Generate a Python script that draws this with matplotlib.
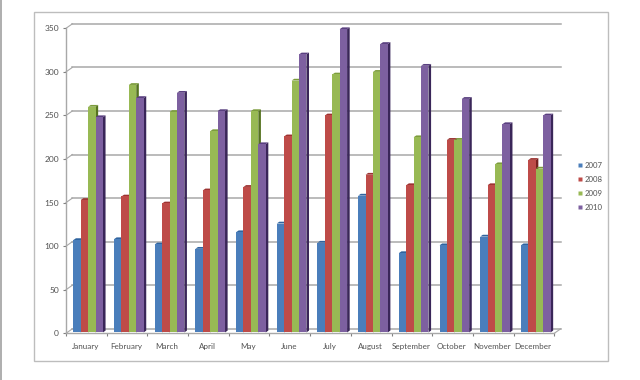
import matplotlib
matplotlib.use('Agg')
import matplotlib.pyplot as plt
from matplotlib.patches import Rectangle, Polygon
from matplotlib.lines import Line2D

plt.rcParams['font.family'] = ['Lato', 'DejaVu Sans']

# Values
months = ['January', 'February', 'March', 'April', 'May', 'June', 'July',
          'August', 'September', 'October', 'November', 'December']
y2007 = [107, 108, 102, 97, 116, 126, 104, 158, 92, 101, 111, 101]
y2008 = [153, 157, 149, 164, 168, 226, 250, 182, 170, 222, 170, 199]
y2009 = [260, 285, 254, 232, 255, 290, 297, 300, 225, 222, 194, 189]
y2010 = [248, 270, 276, 255, 217, 320, 349, 332, 307, 269, 240, 250]
years = ['2007', '2008', '2009', '2010']
series = [y2007, y2008, y2009, y2010]
y_ticks = [0, 50, 100, 150, 200, 250, 300, 350]

front_cols = ['#4a7ebb', '#be4b48', '#98b954', '#7d60a0']
side_cols = ['#234a78', '#76211f', '#55731f', '#3a2659']
cap_cols = ['#2f649f', '#9c3331', '#7c9c3c', '#5a4080']
grid_col = '#a8a8a8'
text_col = '#505050'

W, H = 640, 380
fig = plt.figure(figsize=(6.4, 3.8), dpi=100, facecolor='white')

# outer chart frame and the grey strip on the left edge of the page
fig.add_artist(Rectangle((34 / W, 1 - 361 / H), 574 / W, 349 / H, fill=False,
                         edgecolor='#bdbdbd', linewidth=1.0,
                         transform=fig.transFigure))
fig.add_artist(Rectangle((0, 0), 1.5 / W, 1, facecolor='#b0b0b0',
                         edgecolor='none', transform=fig.transFigure))

ax = fig.add_axes([66 / W, 1 - 333.3 / H, 488.3 / W, 305 / H])
ax.set_xlim(0, 12)
ax.set_ylim(0, 350)
ax.patch.set_alpha(0)

# fake 3D back wall, offset in data units
wall_dx = 6.4 * 12 / 488.3
wall_dy = 4.5 * 350 / 305
for t in y_ticks:
    ax.plot([wall_dx, 12 + wall_dx], [t + wall_dy, t + wall_dy], color=grid_col,
            lw=1.1, zorder=1, clip_on=False)
    ax.plot([0, wall_dx], [t, t + wall_dy], color=grid_col, lw=0.8, zorder=1,
            clip_on=False)
ax.plot([12, 12 + wall_dx], [0, wall_dy], color=grid_col, lw=0.8, zorder=1,
        clip_on=False)

# bars: side and cap first, the next bar in the group covers them
bar_w = 0.182
start = 0.18
side_x = 2.6 * 12 / 488.3
side_y = 1.8 * 350 / 305
z = 3
for m in range(len(months)):
    for k, vals in enumerate(series):
        x0 = m + start + k * bar_w
        x1 = x0 + bar_w
        v = vals[m]
        ax.add_patch(Polygon([(x1, 1), (x1 + side_x, 1 + side_y),
                              (x1 + side_x, v + side_y), (x1, v)],
                             facecolor=side_cols[k], edgecolor='none',
                             zorder=z, clip_on=False))
        ax.add_patch(Polygon([(x0, v), (x0 + side_x, v + side_y),
                              (x1 + side_x, v + side_y), (x1, v)],
                             facecolor=cap_cols[k], edgecolor='none',
                             zorder=z, clip_on=False))
        ax.bar(x0, v - 1, width=bar_w, bottom=1, align='edge',
               color=front_cols[k], linewidth=0, zorder=z + 1)
        z += 2

for s in ['top', 'right']:
    ax.spines[s].set_visible(False)
for s in ['left', 'bottom']:
    ax.spines[s].set_color(grid_col)
    ax.spines[s].set_linewidth(1.0)
    ax.spines[s].set_zorder(2)

ax.set_yticks(y_ticks)
ax.set_xticks(range(13))
ax.set_xticklabels([])
ax.set_xticks([i + 0.48 for i in range(12)], minor=True)
ax.set_xticklabels(months, minor=True)
ax.tick_params(axis='x', which='major', length=2.2, width=0.8, color='#808080')
ax.tick_params(axis='x', which='minor', length=0, pad=7, labelsize=5.8,
               labelcolor=text_col)
ax.tick_params(axis='y', length=2.2, width=0.8, color='#808080', pad=2.8,
               labelsize=6.0, labelcolor=text_col)

handles = [Line2D([], [], linestyle='none', marker='s', markersize=3.2,
                  markerfacecolor=c, markeredgecolor='none') for c in front_cols]
fig.legend(handles, years, frameon=False, loc='center left',
           bbox_to_anchor=(576.5 / W, 1 - 186.3 / H), fontsize=5.6,
           labelcolor=text_col, handlelength=0.9, handletextpad=0.1,
           labelspacing=0.9, borderpad=0, borderaxespad=0)

fig.savefig('out.png', dpi=100, facecolor='white')
